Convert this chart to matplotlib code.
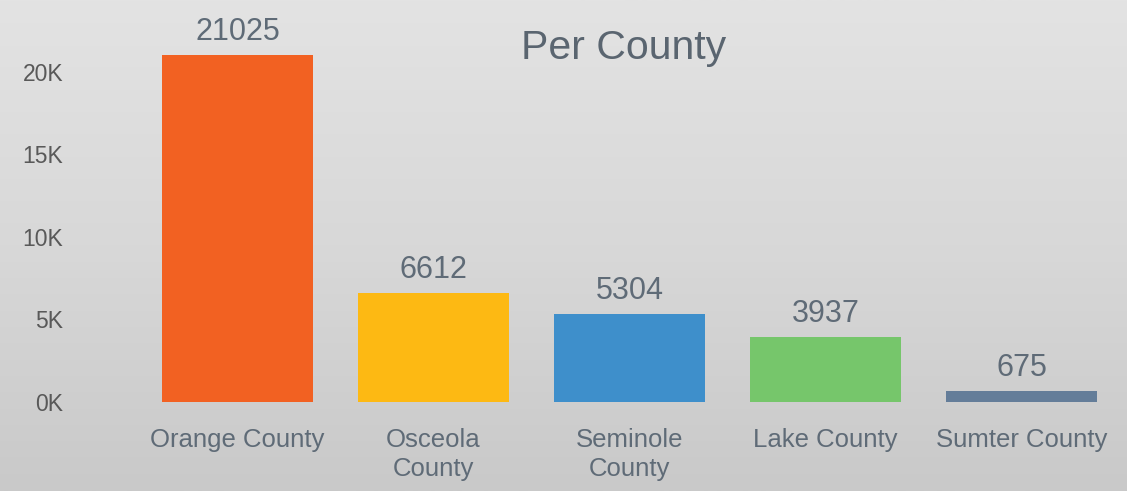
import numpy as np
import matplotlib.pyplot as plt
from matplotlib.colors import LinearSegmentedColormap

plt.rcParams["font.family"] = ["Liberation Sans", "DejaVu Sans"]

# county totals
counties = ["Orange County", "Osceola\nCounty", "Seminole\nCounty", "Lake County", "Sumter County"]
values = [21025, 6612, 5304, 3937, 675]
bar_colors = ["#F26122", "#FDB913", "#3E8FCB", "#76C66B", "#647D99"]
yticks = [0, 5000, 10000, 15000, 20000]
ytick_labels = ["0K", "5K", "10K", "15K", "20K"]

W, H = 1127, 491
fig = plt.figure(figsize=(W / 100, H / 100), dpi=100)

# grey gradient backdrop
bg = fig.add_axes([0, 0, 1, 1], zorder=-1)
grad = np.linspace(0, 1, 256).reshape(-1, 1)
cmap = LinearSegmentedColormap.from_list("bg", ["#e3e3e3", "#d8d8d8", "#c9c9c9"])
bg.imshow(grad, aspect="auto", cmap=cmap, extent=[0, 1, 0, 1], origin="upper")
bg.set_axis_off()

px_per_unit = (402 - 55) / 21025
ax_bottom = 402
ax_top = 10
ax = fig.add_axes([139.5 / W, (H - ax_bottom) / H, 980 / W, (ax_bottom - ax_top) / H])
ax.patch.set_alpha(0)

x = np.arange(len(values))
ax.bar(x, values, width=0.77, color=bar_colors)

for xi, v in zip(x, values):
    ax.annotate(str(v), (xi, v), xytext=(0, 11), textcoords="offset points",
                ha="center", va="baseline", fontsize=22, color="#5f6b77")

ax.set_xlim(-0.5, 4.5)
ax.set_ylim(0, (ax_bottom - ax_top) / px_per_unit)
ax.set_xticks(x)
ax.set_xticklabels(counties, fontsize=18.5, color="#5f6b77", linespacing=1.3)
ax.set_yticks(yticks)
ax.set_yticklabels(ytick_labels, fontsize=16.5, color="#595959")
ax.tick_params(axis="x", length=0, pad=18.5)
ax.tick_params(axis="y", length=0, pad=55)
for s in ax.spines.values():
    s.set_visible(False)

fig.text(624 / W, 1 - 48 / H, "Per County", ha="center", va="center",
         fontsize=29.5, color="#5a6570")

fig.savefig("out.png", dpi=100)
